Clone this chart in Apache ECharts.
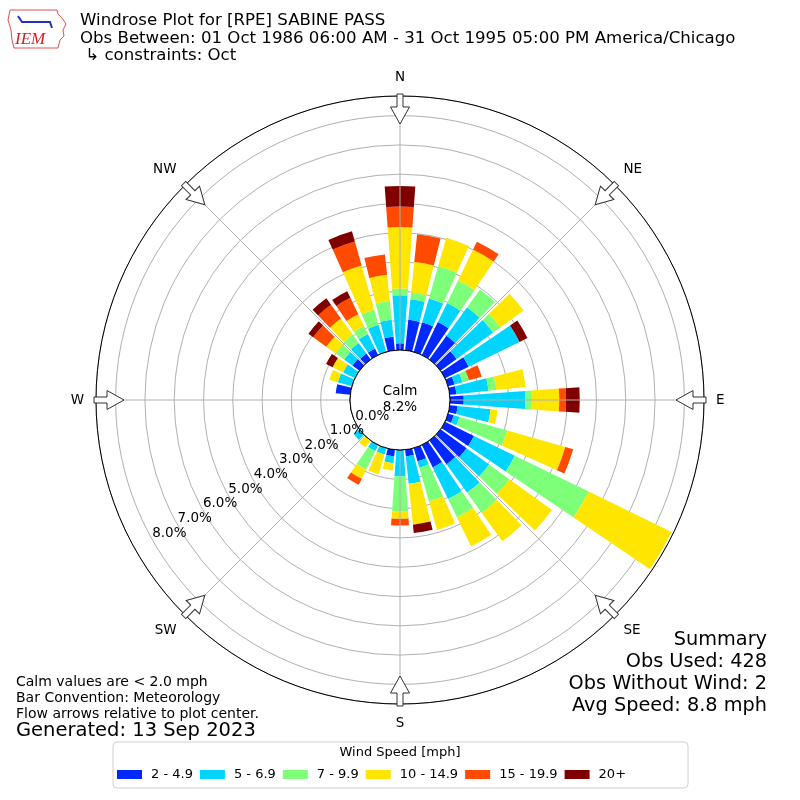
<!DOCTYPE html>
<html>
<head>
<meta charset="utf-8">
<title>Windrose</title>
<script src="https://cdn.jsdelivr.net/npm/echarts@6/dist/echarts.min.js"></script>
<style>
    html, body {margin: 0; padding: 0; background: #fff;}
    #main {width: 800px; height: 800px;}
</style>
</head>
<body>
<div id="main"></div>
<script>
// directions every 10 degrees, N first, clockwise
var directions = ['0','10','20','30','40','50','60','70','80','90','100','110',
    '120','130','140','150','160','170','180','190','200','210','220','230',
    '240','250','260','270','280','290','300','310','320','330','340','350'];

var speedBins = ['2 - 4.9', '5 - 6.9', '7 - 9.9', '10 - 14.9', '15 - 19.9', '20+'];
var binColors = ['#0028ff', '#00d4ff', '#7dff7a', '#ffe600', '#ff4a00', '#800000'];

// frequency in percent per direction, one array per speed bin
var spd2to5 = [0.23,1.05,1.05,1.25,1.00,0.68,0.90,0.23,0.23,0.47,0.27,0.20,
    1.10,1.10,1.00,0.85,0.47,0.23,0,0.23,0,0,0,0,
    0,0,0,0,0.50,0,0,0.30,0.25,0.25,0,0.47];
var spd5to7 = [1.64,0.70,0.85,0.72,1.20,1.54,1.93,0.28,1.10,2.10,1.13,0.20,
    1.55,0.95,1.20,1.20,0.23,0.94,0.90,0.23,0.23,0.23,0,0.25,
    0,0,0,0,0,0.50,0.45,0.35,0.45,0.55,0.96,0.58];
var spd7to10 = [0.23,0.23,1.15,0.86,0.75,0.30,0,0.23,0.27,0.23,0,1.70,
    2.80,0.85,0.85,0.70,1.20,0,1.20,0,0,0.70,0,0,
    0,0,0,0,0,0,0,0.35,0.35,0.30,0.54,0.64];
var spd10to15 = [2.10,1.05,1.00,1.17,0,0.98,0,0,1.00,0.93,0.24,2.06,
    3.15,1.80,1.20,1.10,1.00,1.40,0.25,0.25,0.70,0.35,0.30,0,
    0,0,0,0,0,0.30,0.40,0.40,0.68,0.45,1.57,0.90];
var spd15to20 = [0.70,0.95,0,0.30,0,0,0,0.45,0,0.23,0,0.28,
    0,0,0,0,0,0,0.23,0,0,0.23,0,0,
    0,0,0,0,0,0,0,0.55,0.58,0.62,0.85,0.70];
var spd20up = [0.70,0,0,0,0,0,0.30,0,0,0.47,0,0,
    0,0,0,0,0,0.29,0,0,0,0,0,0,
    0,0,0,0,0,0,0.25,0.20,0.27,0.25,0.36,0];

var radiusTicks = [0, 1, 2, 3, 4, 5, 6, 7, 8];
var radiusTickLabels = ['0.0%','1.0%','2.0%','3.0%','4.0%','5.0%','6.0%','7.0%','8.0%'];
var compassNames = ['N', 'NE', 'E', 'SE', 'S', 'SW', 'W', 'NW'];
var calmPct = '8.2%';

var summaryLines = ['Summary', 'Obs Used: 428', 'Obs Without Wind: 2', 'Avg Speed: 8.8 mph'];
var noteLines = ['Calm values are < 2.0 mph', 'Bar Convention: Meteorology', 'Flow arrows relative to plot center.'];

var FONT = 'DejaVu Sans';

var myChart = echarts.init(document.getElementById('main'));

var binData = [spd2to5, spd5to7, spd7to10, spd10to15, spd15to20, spd20up];
var seriesList = [];
for (var i = 0; i < speedBins.length; i++) {
    seriesList.push({
        name: speedBins[i],
        type: 'bar',
        coordinateSystem: 'polar',
        polarIndex: 0,
        stack: 'wind',
        barCategoryGap: '18%',
        silent: true,
        itemStyle: {color: binColors[i]},
        data: binData[i]
    });
}

//方向箭头
var arrowPts = [[-3,-306],[3,-306],[3,-293],[9.5,-293],[0,-276],[-9.5,-293],[-3,-293]];
var graphics = [];
for (var k = 0; k < compassNames.length; k++) {
    graphics.push({
        type: 'polygon', x: 400, y: 400, rotation: -k * Math.PI / 4, z: 20,
        shape: {points: arrowPts},
        style: {fill: '#fff', stroke: '#333', lineWidth: 1}
    });
}
// calm circle
graphics.push({
    type: 'circle', x: 400, y: 400, z: 10,
    shape: {r: 50},
    style: {fill: '#fff', stroke: '#000', lineWidth: 1}
});
graphics.push({
    type: 'text', x: 400, y: 399, z: 11,
    style: {text: 'Calm\n' + calmPct, font: '13.5px "DejaVu Sans"', fill: '#000',
        textAlign: 'center', textVerticalAlign: 'middle', lineHeight: 16}
});
// summary, notes
graphics.push({
    type: 'text', right: 33, top: 629, z: 11,
    style: {text: summaryLines.join('\n'), font: '19.3px "DejaVu Sans"', fill: '#000',
        textAlign: 'right', lineHeight: 22}
});
graphics.push({
    type: 'text', left: 16, top: 674, z: 11,
    style: {text: noteLines.join('\n'), font: '14px "DejaVu Sans"', fill: '#000', lineHeight: 16}
});
graphics.push({
    type: 'text', left: 16, top: 721, z: 11,
    style: {text: 'Generated: 13 Sep 2023', font: '19.5px "DejaVu Sans"', fill: '#000'}
});
// legend box
graphics.push({
    type: 'rect', x: 113, y: 742, z: 1,
    shape: {width: 575, height: 46, r: 4},
    style: {fill: '#fff', stroke: '#d0d0d0', lineWidth: 1}
});
graphics.push({
    type: 'text', x: 400, y: 753, z: 11,
    style: {text: 'Wind Speed [mph]', font: '13px "DejaVu Sans"', fill: '#000',
        textAlign: 'center', textVerticalAlign: 'middle'}
});
// IEM logo
graphics.push({
    type: 'polyline', z: 11,
    shape: {points: [[10,10],[57,10],[58,14],[62,18],[66,24],[63,30],[64,36],[60,40],[58,48],[14,48],[12,40],[11,30],[8,20],[10,10]]},
    style: {stroke: '#e05050', lineWidth: 1, fill: null}
});
graphics.push({
    type: 'polyline', z: 11,
    shape: {points: [[18,16],[22,22],[50,22],[52,28]]},
    style: {stroke: '#2030c0', lineWidth: 2, fill: null}
});
graphics.push({
    type: 'text', x: 15, y: 31, z: 11,
    style: {text: 'IEM', font: 'italic 17px "Liberation Serif"', fill: '#d42020'}
});

var option = {
    animation: false,
    backgroundColor: '#fff',
    title: {
        text: 'Windrose Plot for [RPE] SABINE PASS\nObs Between: 01 Oct 1986 06:00 AM - 31 Oct 1995 05:00 PM America/Chicago\n \u21b3 constraints: Oct',
        left: 80,
        top: 12,
        padding: 0,
        textStyle: {fontFamily: FONT, fontSize: 16.6, fontWeight: 'normal', color: '#000', lineHeight: 17.6}
    },
    legend: {
        data: speedBins,
        left: 117,
        top: 768,
        padding: 0,
        icon: 'rect',
        itemWidth: 25,
        itemHeight: 9,
        itemGap: 7,
        selectedMode: false,
        textStyle: {fontFamily: FONT, fontSize: 13, color: '#000', padding: [0, 0, 0, 4]}
    },
    polar: [
        {center: ['50%', '50%'], radius: [50, 304]},
        {center: ['50%', '50%'], radius: [50, 304]},
        {center: ['50%', '50%'], radius: [32, 286]}
    ],
    angleAxis: [
        {
            polarIndex: 0, type: 'category', data: directions,
            startAngle: 95, clockwise: true,
            axisLine: {show: false}, axisTick: {show: false},
            axisLabel: {show: false}, splitLine: {show: false}
        },
        {
            polarIndex: 1, type: 'value', min: 0, max: 360, interval: 45,
            startAngle: 90, clockwise: true, z: 3,
            axisLine: {show: true, lineStyle: {color: '#000', width: 1}},
            axisTick: {show: false},
            splitLine: {show: true, lineStyle: {color: '#b0b0b0', width: 1}},
            axisLabel: {
                margin: 12, align: 'center', verticalAlign: 'middle',
                fontFamily: FONT, fontSize: 13.5, color: '#000',
                formatter: function (v) {
                    return compassNames[v / 45] || '';
                }
            }
        },
        {
            polarIndex: 2, type: 'value', min: 0, max: 360,
            startAngle: 210, show: false
        }
    ],
    radiusAxis: [
        {
            polarIndex: 0, type: 'value', min: 0, max: 8.67, interval: 1,
            axisLine: {show: false}, axisTick: {show: false}, axisLabel: {show: false},
            splitLine: {show: true, lineStyle: {color: '#b0b0b0', width: 1}}
        },
        {
            polarIndex: 1, type: 'value', min: 0, max: 8.67, show: false
        },
        {
            polarIndex: 2, type: 'value', min: 0, max: 8.67, interval: 1, z: 30,
            axisLine: {show: false}, axisTick: {show: false}, splitLine: {show: false},
            axisLabel: {
                margin: 0, align: 'center', verticalAlign: 'middle', showMaxLabel: false,
                fontFamily: FONT, fontSize: 13.5, color: '#000',
                formatter: function (v) {
                    var idx = radiusTicks.indexOf(v);
                    return idx < 0 ? '' : radiusTickLabels[idx];
                }
            }
        }
    ],
    graphic: graphics,
    series: seriesList
};

myChart.setOption(option);
</script>
</body>
</html>
